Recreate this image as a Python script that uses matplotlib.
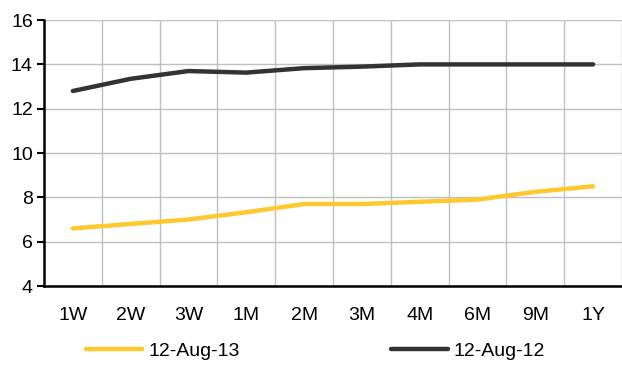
import matplotlib.pyplot as plt
import numpy as np

plt.rcParams['font.family'] = ['Liberation Sans', 'DejaVu Sans']

tenors = ['1W', '2W', '3W', '1M', '2M', '3M', '4M', '6M', '9M', '1Y']
aug13 = [6.6, 6.8, 7.0, 7.33, 7.7, 7.7, 7.8, 7.9, 8.25, 8.5]
aug12 = [12.8, 13.35, 13.7, 13.63, 13.83, 13.9, 14.0, 14.0, 14.0, 14.0]

fig = plt.figure(figsize=(6.22, 3.65), dpi=100)
ax = fig.add_axes([0.0707, 0.2164, 0.9293, 0.7286])

x = np.arange(len(tenors))
ax.plot(x, aug13, color='#FFC82E', lw=3.2, solid_capstyle='round', label='12-Aug-13')
ax.plot(x, aug12, color='#333333', lw=3.2, solid_capstyle='round', label='12-Aug-12')

ax.set_xlim(-0.5, len(tenors) - 0.5)
ax.set_ylim(4, 16)
ax.set_yticks(range(4, 17, 2))
ax.set_xticks(x)
ax.set_xticklabels(tenors)
ax.set_xticks(np.arange(-0.5, len(tenors), 1), minor=True)

ax.grid(True, which='major', axis='y', color='#c0c0c0', lw=1)
ax.grid(True, which='minor', axis='x', color='#c0c0c0', lw=1)
ax.set_axisbelow(True)

for side in ['top', 'right']:
    ax.spines[side].set_visible(False)
ax.spines['left'].set_linewidth(1.8)
ax.spines['bottom'].set_linewidth(1.8)

ax.tick_params(axis='y', length=5, width=1.5, labelsize=14, pad=3)
ax.tick_params(axis='x', which='both', length=0, labelsize=14, pad=15)

fig.legend(loc='center', bbox_to_anchor=(0.507, 0.038), ncol=2, frameon=False,
           fontsize=14, handlelength=2.9, columnspacing=7.8, handletextpad=0.3)

fig.savefig('out.png', dpi=100)
